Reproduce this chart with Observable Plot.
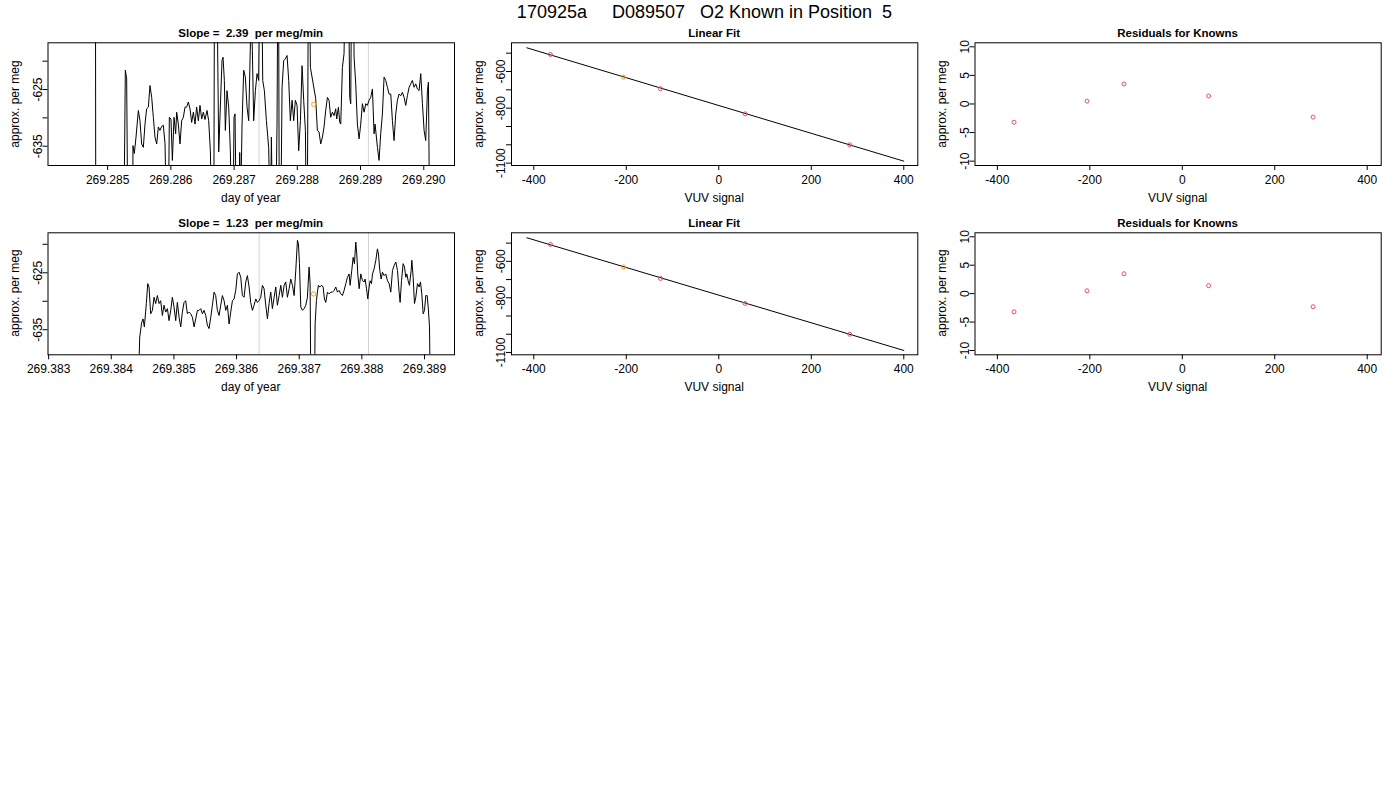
<!DOCTYPE html>
<html><head><meta charset="utf-8">
<script src="https://cdn.jsdelivr.net/npm/d3@7"></script>
<script src="https://cdn.jsdelivr.net/npm/@observablehq/plot@0.6"></script>
<style>
body{margin:0;background:#fff;}
#wrap{position:relative;width:1400px;height:800px;background:#fff;font-family:"Liberation Sans",Arial,Helvetica,sans-serif;color:#000;overflow:hidden;}
.lbl{position:absolute;white-space:pre;line-height:1;}
</style></head><body><div id="wrap"></div>
<script>
// ---------------- data ----------------
const mainTitle = "170925a     D089507   O2 Known in Position  5";
const slopeTitles = ["Slope =  2.39  per meg/min", "Slope =  1.23  per meg/min"];

// run 1 time series (day of year, approx. per meg)
const t1 = [269.284805,269.284816,269.285248,269.285280,269.285301,269.285327,269.285391,269.285401,269.285422,269.285449,269.285486,269.285512,269.285538,269.285565,269.285591,269.285617,269.285644,269.285670,269.285697,269.285723,269.285749,269.285776,269.285802,269.285828,269.285855,269.285881,269.285908,269.285934,269.285960,269.285976,269.286002,269.286024,269.286050,269.286076,269.286092,269.286118,269.286145,269.286171,269.286198,269.286224,269.286250,269.286277,269.286303,269.286329,269.286356,269.286382,269.286408,269.286435,269.286461,269.286488,269.286514,269.286540,
269.286572,269.286598,269.286625,269.286651,269.286677,269.286693,269.286714,269.286757,269.286809,269.286825,269.286846,269.286862,269.286888,269.286915,269.286941,269.286962,269.286983,269.286999,269.287015,269.287036,269.287078,269.287089,269.287105,269.287126,269.287152,269.287178,269.287205,269.287231,269.287258,269.287273,269.287289,269.287310,269.287337,269.287363,269.287389,269.287410,269.287432,269.287453,269.287479,269.287511,269.287547,269.287574,269.287590,269.287611,269.287658,269.287679,269.287700,269.287720,269.287759,269.287785,269.287811,269.287838,269.287864,269.287890,269.287917,269.287943,269.287969,269.287996,269.288022,269.288049,269.288075,269.288101,269.288128,269.288154,269.288180,269.288207,
269.288291,269.288317,269.288344,269.288370,269.288397,269.288423,269.288449,269.288476,269.288502,269.288528,269.288555,269.288581,269.288607,269.288623,269.288650,269.288671,269.288687,269.288713,269.288739,269.288760,269.288808,269.288829,269.288845,269.288861,269.288882,269.288898,269.288924,269.288950,269.288977,269.289003,269.289029,269.289056,269.289082,269.289108,269.289135,269.289161,269.289188,269.289214,269.289230,269.289267,269.289293,269.289319,269.289346,269.289372,269.289398,269.289425,269.289451,269.289478,269.289504,269.289530,269.289557,269.289583,269.289609,269.289636,269.289662,269.289689,269.289715,269.289741,269.289768,269.289794,269.289820,269.289847,269.289873,269.289899,269.289926,269.289952,269.289979,269.290005,269.290031,269.290058,269.290074,269.290100];
const v1 = [-580,-680,-660,-621.6,-623.1,-660,-660,-634.9,-636.3,-633.4,-628.7,-630.5,-634.6,-635.2,-631.1,-628.4,-628.1,-624.3,-626.4,-629.9,-633.4,-634.6,-631.6,-632.2,-631.5,-631.3,-634.6,-650,-650,-629.9,-630.2,-637.5,-629.9,-632.8,-629.0,-631.1,-634.6,-630.5,-629.9,-628.1,-628.1,-627.2,-628.4,-630.8,-629.0,-631.1,-628.1,-630.5,-627.8,-630.2,-629.0,-630.3,
-628.7,-630.5,-635.8,-650,-660,-590,-590,-636.0,-619.9,-619.3,-623.4,-632.2,-625.2,-628.1,-635.8,-650,-650,-629.9,-629.3,-650,-645,-636.1,-645,-631.1,-621.6,-622.8,-628.1,-630.5,-616.95,-612,-618.1,-630.5,-625.2,-622.2,-623.4,-600,-600,-623.4,-625.2,-630.5,-635.2,-650,-633.4,-650,-650,-631.1,-590,-670,-624.6,-619.9,-619.6,-619.0,-623.4,-630.5,-626.9,-630.5,-626.9,-627.8,-635.8,-630.5,-620.8,-626.9,-632.2,-660,-590,-621.1,
-626.6,-632.2,-632.5,-634.6,-633.4,-631.6,-628.7,-626.4,-626.9,-629.9,-629.0,-629.6,-628.4,-630.2,-628.1,-630.8,-631.1,-621.1,-618.7,-605,-605,-626.4,-627.5,-600,-600,-619.3,-624.0,-631.1,-633.7,-631.1,-627.5,-629.0,-627.5,-627.8,-626.9,-626.4,-624.9,-632.8,-631.1,-635.2,-637.5,-632.8,-629.3,-622.8,-623.4,-624.6,-625.8,-625.8,-630.5,-634.0,-629.3,-626.9,-625.8,-626.1,-625.5,-626.4,-627.8,-626.1,-624.6,-624.0,-623.4,-624.6,-624.0,-624.9,-625.2,-622.2,-627.5,-632.2,-634.0,-625.2,-623.7,-660];

// run 2 time series
const t2 = [269.384420,269.384454,269.384486,269.384507,269.384528,269.384560,269.384582,269.384603,269.384629,269.384656,269.384683,269.384709,269.384736,269.384763,269.384789,269.384816,269.384842,269.384869,269.384896,269.384922,269.384949,269.384975,269.385002,269.385029,269.385055,269.385082,269.385109,269.385135,269.385162,269.385188,269.385215,269.385242,269.385268,269.385295,269.385322,269.385348,269.385375,269.385401,269.385428,269.385455,269.385481,269.385508,269.385534,269.385561,269.385588,269.385614,269.385641,269.385667,269.385694,269.385721,269.385747,269.385774,269.385801,269.385827,269.385854,269.385881,269.385907,269.385934,269.385960,269.385987,
269.386013,269.386040,269.386067,269.386093,269.386120,269.386147,269.386173,269.386200,269.386226,269.386253,269.386280,269.386306,269.386333,269.386360,269.386386,269.386413,269.386439,269.386466,269.386493,269.386519,269.386546,269.386572,269.386599,269.386626,269.386652,269.386679,269.386706,269.386732,269.386759,269.386785,269.386812,269.386839,269.386865,269.386892,269.386919,269.386945,269.386972,269.386988,269.387004,269.387025,269.387052,269.387078,269.387105,269.387131,269.387158,269.387174,269.387195,269.387233,269.387254,269.387275,269.387291,269.387307,269.387328,269.387360,269.387382,269.387403,269.387424,269.387451,269.387477,269.387504,269.387531,269.387557,
269.387584,269.387611,269.387637,269.387664,269.387690,269.387717,269.387744,269.387770,269.387797,269.387813,269.387839,269.387861,269.387882,269.387903,269.387919,269.387935,269.387957,269.387983,269.388010,269.388037,269.388052,269.388074,269.388095,269.388116,269.388132,269.388154,269.388170,269.388196,269.388223,269.388249,269.388265,269.388287,269.388308,269.388329,269.388356,269.388382,269.388409,269.388436,269.388462,269.388489,269.388516,269.388542,269.388569,269.388595,269.388611,269.388633,269.388659,269.388681,269.388702,269.388718,269.388739,269.388760,269.388787,269.388798,269.388819,269.388840,269.388861,269.388888,269.388915,269.388936,269.388957,269.388979,269.389000,269.389021,269.389043,269.389059,269.389080,269.389107];
const v2 = [-650,-636.3,-633.7,-633.1,-634.5,-630.4,-626.9,-627.5,-632.2,-631.6,-629.3,-630.4,-629.0,-630.4,-629.9,-632.5,-630.7,-631.9,-631.3,-633.4,-631.6,-629.3,-631.0,-633.4,-630.2,-632.8,-634.5,-631.9,-630.2,-629.9,-632.2,-631.9,-632.2,-632.8,-634.5,-633.1,-631.6,-631.6,-631.3,-632.2,-631.6,-632.5,-634.2,-634.8,-632.8,-630.7,-628.4,-629.0,-631.6,-632.5,-630.7,-629.0,-629.9,-631.6,-630.7,-634.0,-631.9,-629.9,-629.6,-628.1,
-625.2,-624.9,-625.8,-629.0,-629.3,-626.6,-625.5,-627.5,-630.2,-631.6,-630.7,-629.6,-630.2,-629.9,-629.3,-627.2,-627.8,-630.7,-633.1,-630.4,-628.4,-631.3,-629.3,-627.5,-630.7,-629.0,-627.2,-629.3,-627.2,-626.6,-629.3,-627.8,-626.1,-627.2,-629.0,-624.6,-619.3,-619.9,-623.4,-631.0,-631.6,-631.3,-630.7,-629.3,-624.0,-626.9,-660,-660,-634.0,-629.9,-628.4,-627.2,-627.5,-627.2,-627.5,-629.6,-630.2,-628.4,-628.7,-628.4,-628.4,-628.1,
-627.5,-628.4,-628.1,-628.7,-629.0,-628.1,-626.9,-625.8,-625.2,-627.2,-624.6,-622.3,-623.4,-619.6,-621.7,-625.2,-627.8,-625.2,-626.4,-626.6,-626.1,-627.8,-629.6,-627.5,-626.4,-626.9,-625.2,-624.3,-622.8,-620.8,-621.7,-624.6,-626.1,-624.9,-625.5,-625.2,-626.4,-626.9,-628.4,-624.6,-623.7,-623.1,-624.6,-628.4,-630.2,-626.4,-623.4,-624.0,-625.8,-625.2,-626.4,-627.2,-624.6,-622.8,-625.8,-630.4,-629.3,-626.9,-627.5,-626.6,-628.7,-632.2,-631.6,-629.0,-629.0,-631.0,-634.5,-660];

// highlighted sample in each run (orange)
const markT = [269.28826, 269.38723];
const markV = [-627.6, -628.7];
// grey window boundaries
const win1 = [269.287395, 269.289124];
const win2 = [269.386360, 269.388106];

// knowns: VUV signal vs approx. per meg, and residuals
const vuv = [-364, -206, -126, 57, 283];
const perMeg = [-507, -631, -694, -831, -1000];
const resid = [-3.2, 0.5, 3.5, 1.4, -2.3];
const highlightIdx = 1;
const fitX = [-415, 400];
const fitY = [-470.7, -1089];

// ticks
const xTicks1 = [269.285, 269.286, 269.287, 269.288, 269.289, 269.290];
const xTicks2 = [269.383, 269.384, 269.385, 269.386, 269.387, 269.388, 269.389];
const yTicksTS = [-635, -630, -625, -620];
const yLabTS = [-625, -635];
const vuvTicks = [-400, -200, 0, 200, 400];
const fitTicks = [-1100, -1000, -900, -800, -700, -600, -500];
const fitLab = [-600, -800, -1100];
const resTicks = [-10, -5, 0, 5, 10];

// ---------------- drawing ----------------
const FONT = '"Liberation Sans", Arial, Helvetica, sans-serif';
const RED = "#DF536B";
const wrap = document.getElementById("wrap");

function label(text, cx, cy, size, weight, rotate) {
  const d = document.createElement("div");
  d.className = "lbl";
  d.textContent = text;
  d.style.left = cx + "px";
  d.style.top = cy + "px";
  d.style.fontSize = size + "px";
  d.style.fontWeight = weight || "normal";
  d.style.transform = `translate(-50%,-50%) rotate(${rotate || 0}deg)`;
  wrap.appendChild(d);
}

function panel(o) {
  const svg = Plot.plot({
    width: o.w, height: o.h,
    marginLeft: o.box.l - o.left, marginRight: o.left + o.w - o.box.r,
    marginTop: o.box.t - o.top, marginBottom: o.top + o.h - o.box.b,
    style: {fontFamily: FONT, fontSize: "12px", background: "transparent", overflow: "visible", color: "black"},
    x: {domain: o.xDomain},
    y: {domain: o.yDomain},
    marks: [
      Plot.axisX({ticks: o.xTicks, tickFormat: o.xFmt, tickSize: 5, tickPadding: 5, label: null}),
      Plot.axisY({ticks: o.yTicks, tickFormat: o.yFmt, tickSize: 5, tickPadding: 1.5, tickRotate: -90, label: null}),
      ...o.marks,
      Plot.frame({stroke: "black", strokeWidth: 1})
    ]
  });
  svg.style.position = "absolute";
  svg.style.left = o.left + "px";
  svg.style.top = o.top + "px";
  wrap.appendChild(svg);
  const cx = (o.box.l + o.box.r) / 2, cy = (o.box.t + o.box.b) / 2;
  label(o.title, cx, o.box.t - 8.5, 11.5, "bold");
  label(o.xLabel, cx, o.box.b + 32.5, 12);
  label("approx. per meg", o.box.l - 32.5, cy, 12, "normal", -90);
}

label(mainTitle, 704.5, 12, 18);

const cols = [
  {left: 0, w: 465, l: 47.5, r: 454},
  {left: 465, w: 463, l: 511, r: 917.3},
  {left: 928, w: 472, l: 974.5, r: 1380.7}
];
const rows = [
  {top: 20, h: 190, t: 42.3, b: 165},
  {top: 210, h: 190, t: 232.3, b: 354.3}
];
const runs = [
  {t: t1, v: v1, xDomain: [269.284057, 269.290486], yDomain: [-638.4, -616.76], xTicks: xTicks1, win: win1},
  {t: t2, v: v2, xDomain: [269.38299, 269.389479], yDomain: [-639.4, -617.98], xTicks: xTicks2, win: win2}
];
const fmtInt = d => String(d);

runs.forEach((run, r) => {
  const row = rows[r];
  const series = run.t.map((t, i) => ({t, v: run.v[i]}));
  const known = vuv.map((x, i) => ({x, y: perMeg[i], res: resid[i], hi: i === highlightIdx}));
  const boxOf = c => ({l: c.l, r: c.r, t: row.t, b: row.b});

  // time series panel
  panel({
    left: cols[0].left, w: cols[0].w, top: row.top, h: row.h, box: boxOf(cols[0]),
    xDomain: run.xDomain, yDomain: run.yDomain,
    xTicks: run.xTicks, xFmt: d => d.toFixed(3),
    yTicks: yTicksTS, yFmt: d => (yLabTS.includes(d) ? String(d) : ""),
    title: slopeTitles[r], xLabel: "day of year",
    marks: [
      Plot.ruleX(run.win, {stroke: "#d3d3d3", strokeWidth: 1}),
      Plot.line(series, {x: "t", y: "v", stroke: "black", strokeWidth: 1, clip: true}),
      Plot.dot([{t: markT[r], v: markV[r]}], {x: "t", y: "v", r: 2.2, stroke: "orange", fill: "none", strokeWidth: 1})
    ]
  });

  // linear fit panel
  panel({
    left: cols[1].left, w: cols[1].w, top: row.top, h: row.h, box: boxOf(cols[1]),
    xDomain: [-448.2, 430.3], yDomain: [-1112.8, -443.4],
    xTicks: vuvTicks, xFmt: fmtInt,
    yTicks: fitTicks, yFmt: d => (fitLab.includes(d) ? String(d) : ""),
    title: "Linear Fit", xLabel: "VUV signal",
    marks: [
      Plot.line(fitX.map((x, i) => ({x, y: fitY[i]})), {x: "x", y: "y", stroke: "black", strokeWidth: 1}),
      Plot.dot(known, {x: "x", y: "y", r: 2, stroke: d => (d.hi ? "orange" : RED), fill: "none", strokeWidth: 1})
    ]
  });

  // residuals panel
  panel({
    left: cols[2].left, w: cols[2].w, top: row.top, h: row.h, box: boxOf(cols[2]),
    xDomain: [-448.4, 430.3], yDomain: [-10.76, 10.7],
    xTicks: vuvTicks, xFmt: fmtInt,
    yTicks: resTicks, yFmt: fmtInt,
    title: "Residuals for Knowns", xLabel: "VUV signal",
    marks: [
      Plot.dot(known, {x: "x", y: "res", r: 2, stroke: RED, fill: "none", strokeWidth: 1})
    ]
  });
});
</script>
</body></html>
